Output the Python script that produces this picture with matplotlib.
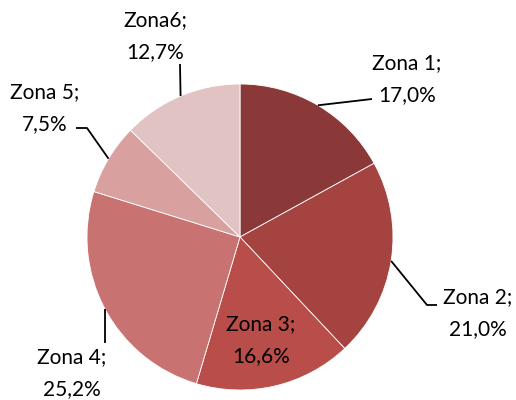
import numpy as np
import matplotlib.pyplot as plt

zones = ["Zona 1", "Zona 2", "Zona 3", "Zona 4", "Zona 5", "Zona6"]
shares = [17.0, 21.0, 16.6, 25.2, 7.5, 12.7]
colors = ["#8B3838", "#A54341", "#B94D4A", "#C87371", "#D8A1A0", "#E2C3C4"]

W, H = 516, 400
CX, CY, R = 240, H - 237, 153

fig = plt.figure(figsize=(W / 100, H / 100), dpi=100)
ax = fig.add_axes([0, 0, 1, 1])

wedges, _ = ax.pie(
    shares,
    colors=colors,
    startangle=90,
    counterclock=False,
    center=(CX, CY),
    radius=R,
    frame=True,
    wedgeprops=dict(edgecolor="white", linewidth=0.6),
)
ax.set_xlim(0, W)
ax.set_ylim(0, H)
ax.set_aspect("equal")
ax.axis("off")

# leader-line elbows and text centres (pixel coords, y downwards); None = no leader
layout = {
    "Zona 1": ([(372, 99)], (407, 79)),
    "Zona 2": ([(427, 305), (437, 305)], (478, 313)),
    "Zona 3": (None, (261, 340)),
    "Zona 4": ([(105, 343)], (72, 373)),
    "Zona 5": ([(87, 128), (76, 128)], (45, 108)),
    "Zona6": ([(180, 64)], (155, 36)),
}

font = dict(family="Lato", size=15, color="black")
for w, name, val in zip(wedges, zones, shares):
    mid = np.deg2rad((w.theta1 + w.theta2) / 2)
    sx, sy = CX + R * np.cos(mid), CY + R * np.sin(mid)
    elbows, (tx, ty) = layout[name]
    if elbows:
        xs = [sx] + [p[0] for p in elbows]
        ys = [sy] + [H - p[1] for p in elbows]
        ax.plot(xs, ys, color="black", lw=1.3, solid_capstyle="butt")
    label = f"{name};\n{val:.1f}%".replace(".", ",")
    ax.text(tx, H - ty, label, ha="center", va="center",
            linespacing=1.75, **font)

fig.savefig("out.png", dpi=100)
